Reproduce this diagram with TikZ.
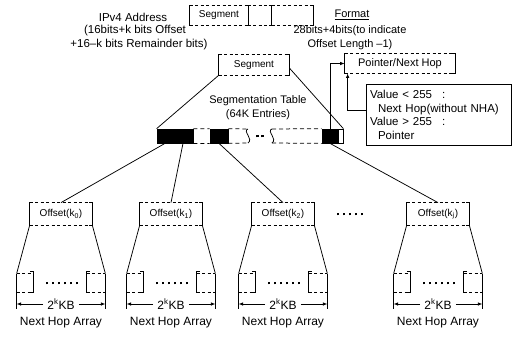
\documentclass[tikz,border=0pt]{standalone}
\usepackage{fontspec}
\setmainfont{Liberation Sans}
\usetikzlibrary{arrows.meta}
\newcommand\brkbox[2][3pt]{%
 \draw[dash pattern=on 3pt off 2.5pt] (#2.north west) -- (#2.north east) (#2.south west) -- (#2.south east);
 \draw ([xshift=#1]#2.north west) -- (#2.north west) -- (#2.south west) -- ([xshift=#1]#2.south west);
 \draw ([xshift=-#1]#2.north east) -- (#2.north east) -- (#2.south east) -- ([xshift=-#1]#2.south east);}
\newcommand\sqd{\rule{2.6pt}{2.6pt}}
\begin{document}
\begin{tikzpicture}[x=1pt,y=-1pt,line width=0.75pt,
  every node/.style={font=\fontsize{10}{12}\selectfont, inner sep=0pt},
  big/.style={font=\fontsize{11.5}{13}\selectfont},
  mid/.style={font=\fontsize{11}{13}\selectfont},
  blk/.style={fill=black,draw=black,minimum height=14pt},
  arr/.style={-{Latex[length=4.5pt,width=3.5pt]}}]
\useasboundingbox (0,0) rectangle (512,338);
% top texts
\node[big] (ipv4) at (133,17) {IPv4 Address};
\node[big] (ipv4b) at (135,31) {(16bits+k bits Offset};
\node[big] (ipv4c) at (139,45) {+16\textendash k bits Remainder bits)};
\node[mid] (fmt) at (352,15) {\underline{Format}};
\node[mid] (fmtb) at (350,31) {28bits+4bits(to indicate};
\node[mid] (fmtc) at (350,45) {Offset Length \textendash1)};
% address box
\node[minimum width=58pt,minimum height=19pt] (seg1) at (219,15) {Segment};
\node[minimum width=24pt,minimum height=19pt] (rest2) at (260,15) {};
\node[minimum width=41pt,minimum height=19pt] (rest3) at (292.5,15) {};
\brkbox{seg1}
\draw[line width=1.3pt] (seg1.north east) -- (seg1.south east);
\draw[dash pattern=on 3pt off 2.5pt] (rest2.north west) -- (rest2.north east) (rest2.south west) -- (rest2.south east);
\brkbox{rest3}
\draw ([xshift=-3pt]rest3.north west) -- (rest3.north west) (rest3.south west) -- ([xshift=-3pt]rest3.south west);
% segment box
\node[minimum width=70pt,minimum height=20pt] (seg2) at (254,65) {Segment};
\brkbox{seg2}
% pointer box
\node[mid,minimum width=110pt,minimum height=19pt] (ptr) at (400,63.5) {Pointer/Next Hop};
\brkbox{ptr}
% value box
\node[draw,minimum width=145pt,minimum height=61pt,text width=137pt,align=left,
  font=\fontsize{11.5}{13.6}\selectfont] (val) at (438.5,115)
  {Value < 255\hspace{10pt}:\\\hspace*{8pt}Next Hop(without NHA)\\Value > 255\hspace{10pt}:\\\hspace*{8pt}Pointer};
% table text
\node[mid] (segt) at (258,101) {Segmentation Table};
\node[mid] (segt2) at (258,115) {(64K Entries)};
% bar
\node[blk,minimum width=36pt] (b1) at (175,136) {};
\node[blk,minimum width=18pt] (b2) at (219,136) {};
\node[blk,minimum width=16pt] (b3) at (330,136) {};
\node[draw,minimum width=5pt,minimum height=14pt] (bend) at (340.5,136) {};
\coordinate (s1t) at (248,129); \coordinate (s1b) at (248,143);
\coordinate (s2t) at (272,129); \coordinate (s2b) at (272,143);
\draw[dash pattern=on 4pt off 3pt] (b1.north east) -- (b2.north west) (b1.south east) -- (b2.south west)
  (b2.north east) -- (s1t) (b2.south east) -- (s1b) (s2t) -- (b3.north west) (s2b) -- (b3.south west);
\draw (s1t) .. controls (242,131) and (254,139) .. (s1b);
\draw (s2t) .. controls (266,131) and (278,139) .. (s2b);
\node (bdots) at (260,136) {\sqd\hspace{2.5pt}\sqd};
% connectors top
\draw (seg2.south west) -- (b1.north west);
\draw ([yshift=-3pt]seg2.east) -- (bend.north east);
\draw[arr] (b3.north) |- (ptr.west);
\coordinate (vin) at ([yshift=5pt]val.west);
\draw[arr] (vin) -| ([xshift=3pt]ptr.south west);
% offsets and arrays
\foreach \c/\n in {61/0,171/1,283/2,438/j}{
  \node[minimum width=62pt,minimum height=22pt] (off\n) at (\c,214) {Offset(k\textsubscript{\n})};
  \brkbox{off\n}
  \node[minimum width=16pt,minimum height=18pt] (al\n) at (\c-36,283) {};
  \node[minimum width=18pt,minimum height=18pt] (ar\n) at (\c+35,283) {};
  \draw[dash pattern=on 3pt off 2.5pt] (al\n.north west) -- (al\n.north east) (al\n.south west) -- (al\n.south east)
     (ar\n.north west) -- (ar\n.north east) (ar\n.south west) -- (ar\n.south east);
  \draw ([xshift=-3pt,yshift=2pt]al\n.north east) -- ([yshift=2pt]al\n.north east) -- (al\n.south east) -- ([xshift=-3pt]al\n.south east);
  \draw ([xshift=3pt,yshift=2pt]ar\n.north west) -- ([yshift=2pt]ar\n.north west) -- (ar\n.south west) -- ([xshift=3pt]ar\n.south west);
  \node (ad\n) at (\c+1,283) {\sqd\hspace{3.4pt}\sqd\hspace{3.4pt}\sqd\hspace{3.4pt}\sqd\hspace{3.4pt}\sqd\hspace{3.4pt}\sqd};
  \node[font=\fontsize{12}{14}\selectfont] (as\n) at (\c,304) {2\textsuperscript{k}KB};
  \node[font=\fontsize{12}{14}\selectfont] (an\n) at (\c,323) {Next Hop Array};
  \draw (off\n.south west) -- (al\n.north west);
  \draw (off\n.south east) -- (ar\n.north east);
  \draw (al\n.north west) -- ([yshift=-5pt]al\n.west |- as\n);
  \draw (ar\n.north east) -- ([yshift=-5pt]ar\n.east |- as\n);
  \draw[arr] ([xshift=-4pt]as\n.west) -- (al\n.west |- as\n);
  \draw[arr] ([xshift=4pt]as\n.east) -- (ar\n.east |- as\n);
}
\node (mdots) at (350,214) {\sqd\hspace{3.4pt}\sqd\hspace{3.4pt}\sqd\hspace{3.4pt}\sqd\hspace{3.4pt}\sqd};
\draw ([xshift=-10pt]b1.south) -- (off0.north);
\draw ([xshift=8pt]b1.south) -- (off1.north);
\draw (b2.south) -- (off2.north);
\draw (b3.south) -- (offj.north);
\end{tikzpicture}
\end{document}
